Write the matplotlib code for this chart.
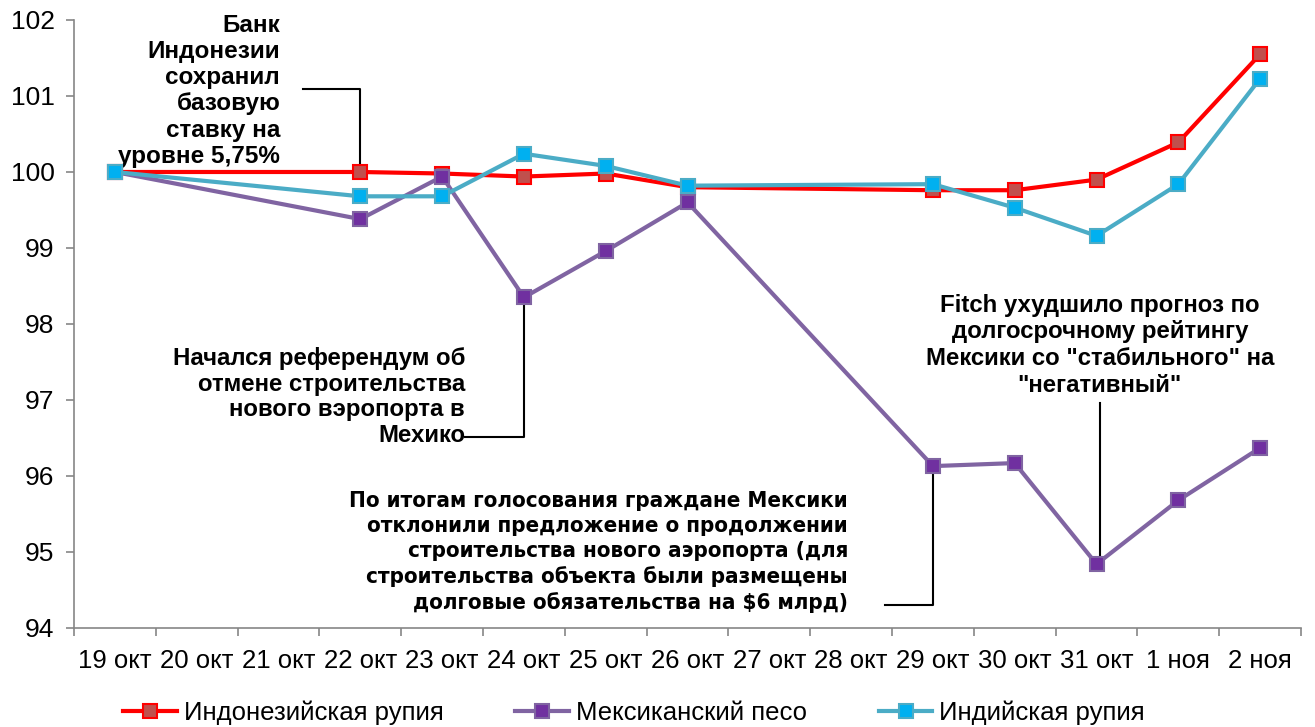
import matplotlib
matplotlib.use("Agg")
import matplotlib.pyplot as plt
from matplotlib import font_manager as fm

# ---------------- data ----------------
categories = ["19 окт", "20 окт", "21 окт", "22 окт", "23 окт", "24 окт", "25 окт",
              "26 окт", "27 окт", "28 окт", "29 окт", "30 окт", "31 окт", "1 ноя", "2 ноя"]
obs_dates = ["19 окт", "22 окт", "23 окт", "24 окт", "25 окт", "26 окт",
             "29 окт", "30 окт", "31 окт", "1 ноя", "2 ноя"]
idr = [100.0, 100.0, 99.98, 99.94, 99.98, 99.80, 99.76, 99.76, 99.90, 100.39, 101.55]
mxn = [100.0, 99.38, 99.94, 98.35, 98.96, 99.60, 96.13, 96.17, 94.84, 95.68, 96.37]
inr = [100.0, 99.68, 99.68, 100.24, 100.08, 99.82, 99.84, 99.53, 99.16, 99.84, 101.23]
series_names = ["Индонезийская рупия", "Мексиканский песо", "Индийская рупия"]
y_ticks = [94, 95, 96, 97, 98, 99, 100, 101, 102]

plt.rcParams['font.family'] = ['Liberation Sans', 'DejaVu Sans']

names = {f.name for f in fm.fontManager.ttflist}
if 'Liberation Sans Narrow' in names:
    narrow = dict(family=['Liberation Sans Narrow', 'DejaVu Sans'])
    narrow_size = 17.5
    narrow_ls = 1.2
else:
    narrow = dict(family=['DejaVu Sans'], stretch='condensed')
    narrow_size = 16
    narrow_ls = 1.3

xs = [categories.index(d) for d in obs_dates]

fig = plt.figure(figsize=(13.15, 7.27), dpi=100)
ax = fig.add_axes([0.0563, 0.1362, 0.9331, 0.8363])

line_styles = [
    dict(color='#FF0000', mfc='#C0504D', mec='#FF0000'),
    dict(color='#8064A2', mfc='#7030A0', mec='#8064A2'),
    dict(color='#4BACC6', mfc='#00B0F0', mec='#4BACC6'),
]
for vals, name, st, z in zip([idr, mxn, inr], series_names, line_styles, [3, 4, 5]):
    ax.plot(xs, vals, color=st['color'], lw=3, marker='s', ms=9.5,
            mfc=st['mfc'], mec=st['mec'], mew=1.5, label=name, zorder=z)

ax.set_xlim(-0.5, len(categories) - 0.5)
ax.set_ylim(94, 102)
ax.set_yticks(y_ticks)
ax.set_yticklabels([str(v) for v in y_ticks])
ax.set_xticks([i - 0.5 for i in range(len(categories) + 1)])
ax.set_xticklabels([])
ax.set_xticks(range(len(categories)), minor=True)
ax.set_xticklabels(categories, minor=True)

axis_col = '#868686'
for s in ['top', 'right']:
    ax.spines[s].set_visible(False)
for s in ['left', 'bottom']:
    ax.spines[s].set_color(axis_col)
    ax.spines[s].set_linewidth(1.2)
ax.tick_params(axis='y', which='major', direction='out', length=6, width=1.2,
               color=axis_col, labelsize=19, pad=8)
ax.tick_params(axis='x', which='major', direction='out', length=6, width=1.2,
               color=axis_col)
ax.tick_params(axis='x', which='minor', length=0, labelsize=18.5, pad=15)

# ---------------- annotations ----------------
conn = dict(color='black', lw=1.5, zorder=2, clip_on=False)
# Bank of Indonesia
ax.text(2.02, 101.07,
        "Банк\nИндонезии\nсохранил\nбазовую\nставку на\nуровне 5,75%",
        ha='right', va='center', multialignment='right', fontsize=17.5,
        fontweight='bold', linespacing=1.18)
ax.plot([2.30, 3, 3], [101.09, 101.09, 100.06], **conn)

# Referendum
ax.text(4.28, 97.04,
        "Начался референдум об\nотмене строительства\nнового вэропорта в\nМехико",
        ha='right', va='center', multialignment='right', fontsize=17.3,
        fontweight='bold', linespacing=1.15)
ax.plot([4.28, 5, 5], [96.51, 96.51, 98.30], **conn)

# Vote results
ax.text(8.96, 95.0,
        "По итогам голосования граждане Мексики\nотклонили предложение о продолжении\n"
        "строительства нового аэропорта (для\nстроительства объекта были размещены\n"
        "долговые обязательства на \\$6 млрд)",
        ha='right', va='center', multialignment='right', fontsize=narrow_size,
        fontweight='bold', linespacing=narrow_ls, **narrow)
ax.plot([9.41, 10, 10], [94.30, 94.30, 96.05], **conn)

# Fitch
ax.text(12.04, 97.72,
        'Fitch ухудшило прогноз по\nдолгосрочному рейтингу\nМексики со "стабильного" на\n"негативный"',
        ha='center', va='center', multialignment='center', fontsize=17.3,
        fontweight='bold', linespacing=1.2)
ax.plot([12.04, 12.04], [96.96, 94.93], **conn)

handles, labels = ax.get_legend_handles_labels()
fig.legend(handles, labels, loc='center', bbox_to_anchor=(0.482, 0.019), ncol=3,
           frameon=False, fontsize=18.5, handlelength=2.1, handletextpad=0.25,
           columnspacing=2.8, borderpad=0.2)

fig.savefig('out.png', dpi=100)
